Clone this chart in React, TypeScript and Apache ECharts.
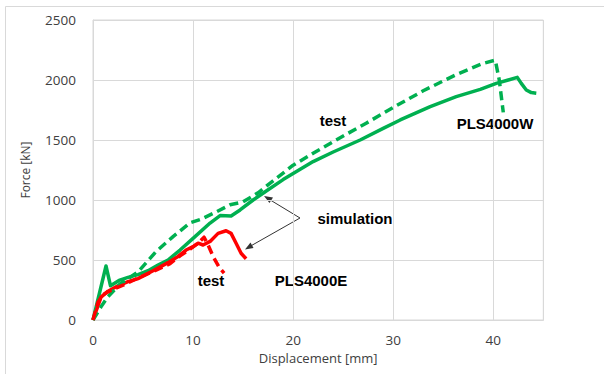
import React, { useEffect, useRef } from "react";
import * as echarts from "echarts";

// Displacement [mm], Force [kN]
const wSimX = [0, 1.3, 1.75, 2.6, 3.5, 4.5, 5.5, 6.5, 7.5, 8.7, 10, 11.7, 12.7, 13.8, 14.7, 16, 17.5, 19, 20.5, 22, 24, 26.7, 29, 30.7, 33.7, 36.3, 38.7, 40.3, 41.5, 42.4, 42.8, 43.3, 43.8, 44.3];
const wSimY = [0, 450, 285, 330, 355, 378, 411, 458, 500, 583, 680, 808, 870, 867, 917, 1000, 1085, 1170, 1245, 1320, 1400, 1500, 1597, 1667, 1778, 1861, 1922, 1972, 2000, 2022, 1972, 1917, 1895, 1890];

const wTestX = [0, 0.8, 1.5, 2.7, 4.5, 6.3, 8, 9.7, 10.8, 12.3, 13.7, 15, 16.5, 18, 20, 22, 24.3, 27.3, 30.3, 33, 36.3, 39, 40.2, 40.6, 41];
const wTestY = [0, 110, 195, 300, 400, 570, 695, 810, 840, 900, 960, 985, 1060, 1160, 1290, 1390, 1500, 1640, 1785, 1910, 2045, 2139, 2165, 2000, 1730];

const eSimX = [0, 0.8, 1.5, 2.5, 3.5, 4.5, 6, 7.5, 8.5, 9.3, 10, 10.5, 11, 11.7, 12.5, 13.3, 13.8, 14.3, 14.8, 15.3];
const eSimY = [0, 190, 240, 285, 320, 345, 410, 478, 530, 583, 611, 640, 625, 655, 722, 744, 722, 640, 556, 510];

const eTestX = [0, 0.5, 1, 1.5, 2, 3, 4.3, 6.3, 7.7, 8.7, 9.7, 10.5, 11.1, 11.5, 12, 12.6, 13.1];
const eTestY = [0, 150, 210, 235, 255, 290, 342, 415, 470, 535, 590, 640, 690, 625, 530, 440, 390];

const xTicks = [0, 10, 20, 30, 40];
const yTicks = [0, 500, 1000, 1500, 2000, 2500];

const GREEN = "#00b050";
const RED = "#ff0000";

const pair = (xs: number[], ys: number[]) => xs.map((x, i) => [x, ys[i]]);

export default function App() {
  const ref = useRef<HTMLDivElement>(null);
  useEffect(() => {
    if (!ref.current) return;
    const chart = echarts.init(ref.current, null, { renderer: "svg" });
    const lineS = (name: string, data: number[][], color: string, dashed: boolean) => ({
      name,
      type: "line",
      data,
      showSymbol: false,
      symbol: "none",
      lineStyle: { color, width: 3.5, type: dashed ? [9, 5] : "solid", cap: "butt", join: "round" },
      z: dashed ? 3 : 2,
    });
    const font = "'Open Sans', 'DejaVu Sans', sans-serif";
    const bold = "bold 15px 'Liberation Sans', Arial, sans-serif";
    chart.setOption({
      animation: false,
      backgroundColor: "#ffffff",
      grid: { left: 93, top: 20, right: 60.7, bottom: 54, show: true, borderColor: "#d9d9d9", borderWidth: 1 },
      xAxis: {
        type: "value",
        min: 0,
        max: 45,
        interval: 10,
        name: "Displacement [mm]",
        nameLocation: "middle",
        nameGap: 31,
        nameTextStyle: { fontFamily: font, fontSize: 13, color: "#404040" },
        axisLine: { show: true, lineStyle: { color: "#d9d9d9" } },
        axisTick: { show: false },
        axisLabel: {
          fontFamily: font, fontSize: 13.5, color: "#404040", margin: 13, showMaxLabel: false,
          formatter: (v: number) => (xTicks.includes(v) ? String(v) : ""),
        },
        splitLine: { show: true, lineStyle: { color: "#d9d9d9", width: 1 } },
      },
      yAxis: {
        type: "value",
        min: 0,
        max: 2500,
        interval: 500,
        name: "Force [kN]",
        nameLocation: "middle",
        nameGap: 62,
        nameTextStyle: { fontFamily: font, fontSize: 12, color: "#404040" },
        axisLine: { show: true, lineStyle: { color: "#d9d9d9" } },
        axisTick: { show: false },
        axisLabel: {
          fontFamily: font, fontSize: 13.5, color: "#404040", margin: 17,
          formatter: (v: number) => (yTicks.includes(v) ? String(v) : ""),
        },
        splitLine: { show: true, lineStyle: { color: "#d9d9d9", width: 1 } },
      },
      series: [
        lineS("PLS4000W simulation", pair(wSimX, wSimY), GREEN, false),
        lineS("PLS4000W test", pair(wTestX, wTestY), GREEN, true),
        lineS("PLS4000E simulation", pair(eSimX, eSimY), RED, false),
        lineS("PLS4000E test", pair(eTestX, eTestY), RED, true),
      ],
      graphic: [
        { type: "rect", shape: { x: 5.5, y: 6.5, width: 640, height: 400 }, style: { fill: "none", stroke: "#d9d9d9", lineWidth: 1 }, silent: true, z: -10 },
        { type: "text", x: 333, y: 120, style: { text: "test", font: bold, fill: "#000", align: "center", verticalAlign: "middle" } },
        { type: "text", x: 495, y: 123, style: { text: "PLS4000W", font: bold, fill: "#000", align: "center", verticalAlign: "middle" } },
        { type: "text", x: 355, y: 218, style: { text: "simulation", font: bold, fill: "#000", align: "center", verticalAlign: "middle" } },
        { type: "text", x: 211, y: 280, style: { text: "test", font: bold, fill: "#000", align: "center", verticalAlign: "middle" } },
        { type: "text", x: 311, y: 280, style: { text: "PLS4000E", font: bold, fill: "#000", align: "center", verticalAlign: "middle" } },
        { type: "line", shape: { x1: 300, y1: 218, x2: 267, y2: 198 }, style: { stroke: "#333", lineWidth: 1 } },
        { type: "polygon", shape: { points: [[264, 196], [273, 197.5], [269.5, 203]] }, style: { fill: "#333" } },
        { type: "line", shape: { x1: 300, y1: 218, x2: 248, y2: 247.5 }, style: { stroke: "#333", lineWidth: 1 } },
        { type: "polygon", shape: { points: [[245, 249.5], [250.5, 242.5], [253.5, 248]] }, style: { fill: "#333" } },
      ],
    });
    return () => chart.dispose();
  }, []);
  return <div ref={ref} style={{ position: "fixed", left: 0, top: 0, width: 604, height: 374 }} />;
}
